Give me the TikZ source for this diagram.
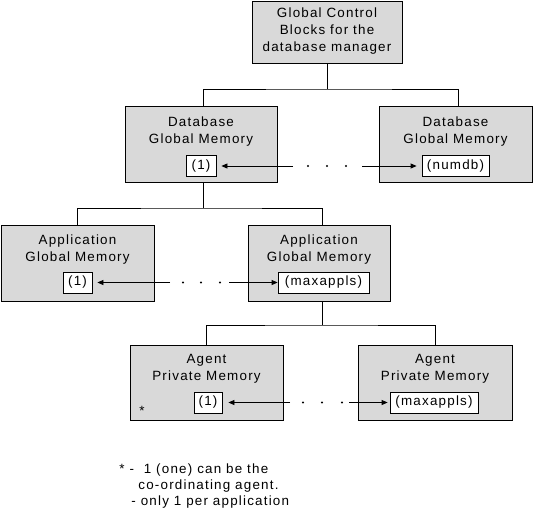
\documentclass[tikz,border=0pt]{standalone}
\usepackage{fontspec}
\setmainfont{Liberation Sans}[LetterSpace=9]
\usetikzlibrary{arrows.meta}
\definecolor{boxgray}{RGB}{217,217,217}
\begin{document}
\begin{tikzpicture}[x=1pt,y=-1pt,
  line width=0.8pt,
  txt/.style={font=\fontsize{13.4}{17}\selectfont, align=center, inner sep=0pt},
  membox/.style={draw=black, fill=boxgray, inner sep=0pt},
  valbox/.style={draw=black, fill=white, inner sep=0pt, minimum height=21pt, font=\fontsize{13.4}{17}\selectfont},
  arr/.style={-{Triangle[length=6pt,width=5pt]}},
  dotmark/.style={circle, fill=black, inner sep=0pt, minimum size=2.4pt}
]
\useasboundingbox (0,0) rectangle (533,509);

% big boxes
\node[membox, minimum width=150pt, minimum height=62pt] (gcb) at (327,32) {};
\node[membox, minimum width=152pt, minimum height=76pt] (dbL) at (201,144) {};
\node[membox, minimum width=153pt, minimum height=76pt] (dbR) at (455.5,144) {};
\node[membox, minimum width=153pt, minimum height=76pt] (appL) at (77.5,263) {};
\node[membox, minimum width=142pt, minimum height=76pt] (appR) at (319,263) {};
\node[membox, minimum width=153pt, minimum height=75pt] (agL) at (206.5,382.5) {};
\node[membox, minimum width=154pt, minimum height=75pt] (agR) at (435,382.5) {};

% titles
\node[txt] (tgcb) at (327,31.5) {Global Control\\Blocks for the\\database manager};
\node[txt] (tdbL) at (201,131.5) {Database\\Global Memory};
\node[txt] (tdbR) at (455.5,131.5) {Database\\Global Memory};
\node[txt] (tappL) at (77.5,250) {Application\\Global Memory};
\node[txt] (tappR) at (319,250) {Application\\Global Memory};
\node[txt] (tagL) at (206.5,368.5) {Agent\\Private Memory};
\node[txt] (tagR) at (435,368.5) {Agent\\Private Memory};

% value boxes
\node[valbox, minimum width=30pt] (db1) at (201,166) {(1)};
\node[valbox, minimum width=67pt] (dbN) at (455.5,166) {(numdb)};
\node[valbox, minimum width=29pt] (ap1) at (77.5,282.5) {(1)};
\node[valbox, minimum width=91pt] (apN) at (323.5,282.5) {(maxappls)};
\node[valbox, minimum width=28pt] (ag1) at (208,402.5) {(1)};
\node[valbox, minimum width=88pt] (agN) at (434,402.5) {(maxappls)};

% tree connectors
\coordinate (j1) at (327,89);
\draw (gcb.south) -- (j1);
\draw ([xshift=2pt]dbL.north) |- (j1) -| ([xshift=2.5pt]dbR.north);
\coordinate (j2) at (203,208);
\draw ([xshift=2pt]dbL.south) -- (j2);
\draw (appL.north) |- (j2) -| ([xshift=3pt]appR.north);
\coordinate (j3) at (322,325);
\draw ([xshift=3pt]appR.south) -- (j3);
\draw (agL.north) |- (j3) -| (agR.north);

% range arrows
\coordinate (a1) at (293,166);
\coordinate (b1) at (362,166);
\draw[arr, shorten >=5pt] (a1) -- (db1.east);
\draw[arr, shorten >=5pt] (b1) -- (dbN.west);
\node[dotmark] (d11) at (308,166) {};
\node[dotmark] (d12) at (327,166) {};
\node[dotmark] (d13) at (346,166) {};

\coordinate (a2) at (170,282.5);
\coordinate (b2) at (229,282.5);
\draw[arr, shorten >=5pt] (a2) -- (ap1.east);
\draw[arr] (b2) -- (apN.west);
\node[dotmark] (d21) at (183,282.5) {};
\node[dotmark] (d22) at (201,282.5) {};
\node[dotmark] (d23) at (220,282.5) {};

\coordinate (a3) at (290,402.5);
\coordinate (b3) at (349,402.5);
\draw[arr, shorten >=6pt] (a3) -- (ag1.east);
\draw[arr, shorten >=2pt] (b3) -- (agN.west);
\node[dotmark] (d31) at (303,402.5) {};
\node[dotmark] (d32) at (322,402.5) {};
\node[dotmark] (d33) at (342,402.5) {};

% star and footnote
\node[txt] (star) at (142,411) {*};
\node[txt, anchor=west] (f1) at (119,470) {* -\ \ 1 (one) can be the};
\node[txt, anchor=west] (f2) at (138,486) {co-ordinating agent.};
\node[txt, anchor=west] (f3) at (131,502) {- only 1 per application};
\end{tikzpicture}
\end{document}
